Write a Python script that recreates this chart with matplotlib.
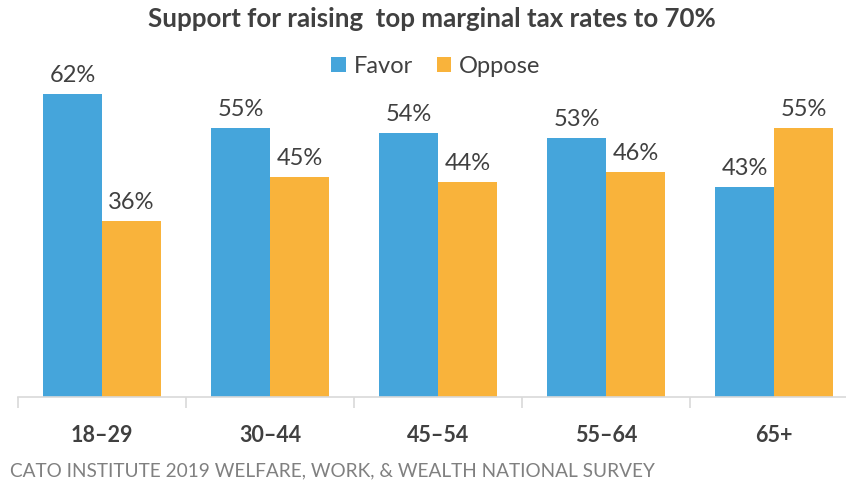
import numpy as np
import matplotlib.pyplot as plt

plt.rcParams['font.family'] = ['Lato', 'DejaVu Sans']

groups = ['18–29', '30–44', '45–54', '55–64', '65+']
favor = [62, 55, 54, 53, 43]
oppose = [36, 45, 44, 46, 55]

blue = '#45A5DB'
orange = '#F9B33B'
text_dark = '#404040'

fig = plt.figure(figsize=(8.46, 4.9), dpi=100)
ax = fig.add_axes([18 / 846, 93 / 490, 840 / 846, 342 / 490])

x = np.arange(len(groups))
w = 0.35
b1 = ax.bar(x - w / 2, favor, w, color=blue, label='Favor')
b2 = ax.bar(x + w / 2, oppose, w, color=orange, label='Oppose')

for bars, vals in ((b1, favor), (b2, oppose)):
    for rect, v in zip(bars, vals):
        ax.text(rect.get_x() + rect.get_width() / 2, v + 1.6, f'{v}%',
                ha='center', va='bottom', fontsize=17, color=text_dark)

ax.set_xlim(-0.5, len(groups) - 0.5)
ax.set_ylim(0, 70)
for s in ('top', 'right', 'left'):
    ax.spines[s].set_visible(False)
ax.spines['bottom'].set_color('#D9D9D9')
ax.spines['bottom'].set_linewidth(1.2)
ax.set_yticks([])

ax.set_xticks(np.arange(-0.5, len(groups), 1.0))
ax.set_xticklabels([])
ax.set_xticks(x, minor=True)
ax.set_xticklabels(groups, minor=True, fontsize=15.5, fontweight='bold', color=text_dark)
ax.tick_params(axis='x', which='major', length=8, color='#D9D9D9', width=1.2)
ax.tick_params(axis='x', which='minor', length=0, pad=20)

fig.text(432 / 846, 1 - 19 / 490, 'Support for raising  top marginal tax rates to 70%',
         ha='center', va='center', fontsize=18.6, fontweight='bold', color=text_dark)

fig.legend(handles=[b1, b2], loc='center', bbox_to_anchor=(436 / 846, 1 - 66 / 490),
           ncol=2, frameon=False, fontsize=17, handlelength=0.6, handleheight=0.6,
           handletextpad=0.35, columnspacing=1.0, labelcolor=text_dark)

fig.text(10 / 846, 1 - 471 / 490, 'CATO INSTITUTE 2019 WELFARE, WORK, & WEALTH NATIONAL SURVEY',
         ha='left', va='center', fontsize=13.7, color='#808080')

fig.savefig('out.png', dpi=100)
